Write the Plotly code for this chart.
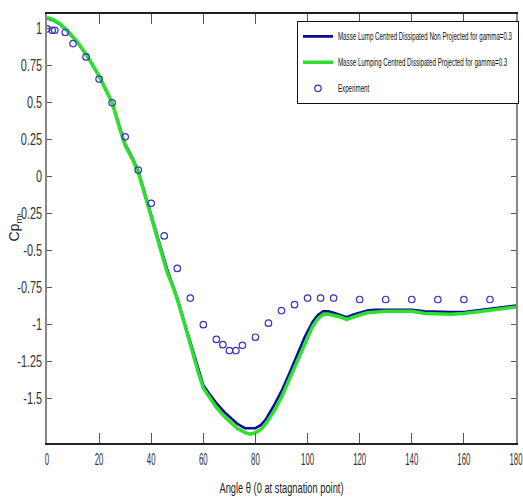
import plotly.graph_objects as go

# Pressure coefficient along the cylinder surface
angle_sim = [0, 2, 5, 8, 12, 16, 20, 25, 28, 30, 33, 35, 38, 41, 44, 46, 48, 50, 53, 56, 58,
             60, 62, 65, 68, 70, 73, 76, 78, 80, 82, 84, 87, 90, 93, 96, 99, 102, 104, 106,
             108, 110, 112, 115, 118, 120, 123, 126, 130, 135, 140, 145, 150, 155, 160,
             165, 170, 175, 180]

cp_non_projected = [1.07, 1.06, 1.03, 0.98, 0.90, 0.80, 0.68, 0.50, 0.33, 0.22, 0.12, 0.04,
                    -0.14, -0.32, -0.49, -0.62, -0.72, -0.82, -1.0, -1.18, -1.30, -1.41,
                    -1.46, -1.53, -1.59, -1.62, -1.67, -1.70, -1.70, -1.70, -1.68, -1.64,
                    -1.55, -1.45, -1.33, -1.20, -1.08, -0.98, -0.935, -0.91, -0.91, -0.92,
                    -0.93, -0.95, -0.93, -0.92, -0.905, -0.90, -0.90, -0.90, -0.90, -0.91,
                    -0.915, -0.915, -0.915, -0.905, -0.895, -0.88, -0.87]

cp_projected = [1.075, 1.065, 1.035, 0.985, 0.905, 0.80, 0.68, 0.50, 0.32, 0.21, 0.11, 0.03,
                -0.15, -0.33, -0.50, -0.64, -0.73, -0.83, -1.01, -1.20, -1.32, -1.43,
                -1.48, -1.56, -1.62, -1.65, -1.70, -1.73, -1.74, -1.73, -1.71, -1.67,
                -1.59, -1.49, -1.37, -1.24, -1.12, -1.01, -0.96, -0.93, -0.93, -0.935,
                -0.945, -0.965, -0.945, -0.935, -0.92, -0.915, -0.91, -0.91, -0.91, -0.925,
                -0.93, -0.93, -0.925, -0.915, -0.905, -0.895, -0.88]

angle_exp = [0, 2, 3, 7, 10, 15, 20, 25, 30, 35, 40, 45, 50, 55, 60, 65, 67.5, 70, 72.5, 75,
             80, 85, 90, 95, 100, 105, 110, 120, 130, 140, 150, 160, 170]
cp_exp = [1.0, 0.99, 0.99, 0.975, 0.90, 0.81, 0.66, 0.50, 0.27, 0.045, -0.18, -0.40, -0.62,
          -0.82, -1.0, -1.10, -1.135, -1.175, -1.175, -1.14, -1.085, -0.99, -0.905, -0.865,
          -0.82, -0.82, -0.82, -0.83, -0.83, -0.83, -0.83, -0.83, -0.83]

x_ticks = [0, 20, 40, 60, 80, 100, 120, 140, 160, 180]
y_ticks = [1, 0.75, 0.5, 0.25, 0, -0.25, -0.5, -0.75, -1, -1.25, -1.5]
y_labels = ["1", "0.75", "0.5", "0.25", "0", "-0.25", "-0.5", "-0.75", "-1", "-1.25", "-1.5"]

FONT = "Liberation Sans, Arial, sans-serif"

fig = go.Figure()
fig.add_trace(go.Scatter(
    x=angle_sim, y=cp_non_projected, mode="lines", legendgroup="a",
    name="Masse Lump Centred Dissipated Non Projected for gamma=0.3",
    line=dict(color="#0b0b96", width=2.6)))
fig.add_trace(go.Scatter(
    x=angle_sim, y=cp_projected, mode="lines", legendgroup="b",
    name="Masse Lumping Centred Dissipated Projected for gamma=0.3",
    line=dict(color="#2ee02e", width=3.5)))
fig.add_trace(go.Scatter(
    x=angle_exp, y=cp_exp, mode="markers", name="Experiment", legendgroup="c",
    marker=dict(symbol="circle-open", size=6.5, color="#3535c0", line=dict(width=1.2))))

fig.update_layout(
    width=523, height=500,
    margin=dict(l=47, r=7, t=14, b=57, autoexpand=False),
    paper_bgcolor="white", plot_bgcolor="white",
    font=dict(family=FONT, size=12, color="#222"),
    showlegend=True,
    legend=dict(x=0.533, y=0.984, xanchor="left", yanchor="top",
                bgcolor="white", bordercolor="#111", borderwidth=1,
                font=dict(family=FONT, size=10, color="#111"),
                tracegroupgap=7, itemwidth=30),
)
fig.update_xaxes(
    range=[0, 180], tickvals=x_ticks, ticks="inside", ticklen=10, tickcolor="#555",
    showline=True, linecolor="#222", linewidth=1.5, mirror="allticks",
    showgrid=False, zeroline=False, automargin=False, ticklabeloverflow="allow",
    tickfont=dict(family=FONT, size=17, color="#333"),
    title=dict(text="Angle θ (0 at stagnation point)", standoff=14,
               font=dict(family=FONT, size=15, color="#222")))
fig.update_yaxes(
    range=[-1.8, 1.1], tickvals=y_ticks, ticktext=y_labels, ticks="inside", ticklen=5,
    tickcolor="#555", showline=True, linecolor="#888", linewidth=1.5, mirror="allticks",
    showgrid=False, zeroline=False, automargin=False, ticklabeloverflow="allow",
    tickfont=dict(family=FONT, size=16, color="#333"),
    title=dict(text="Cp<sub>m</sub>", standoff=0,
               font=dict(family=FONT, size=14, color="#222")))

# Narrow (condensed) lettering: squeeze text horizontally about its anchor point
condense_js = """
var gd = document.getElementById('{plot_id}');
function squeeze(sel, f) {
  var maxW = 0;
  gd.querySelectorAll(sel).forEach(function (t) {
    var w = t.getComputedTextLength();
    if (w > 0) {
      maxW = Math.max(maxW, w);
      var ax = parseFloat(t.getAttribute('x')) || 0;
      var tr = t.getAttribute('transform') || '';
      t.setAttribute('transform', tr + ' translate(' + ax + ',0) scale(' + f + ',1) translate(' + (-ax) + ',0)');
    }
  });
  return maxW;
}
squeeze('g.xtick text', 0.46);
squeeze('g.ytick text', 0.68);
squeeze('text.xtitle', 0.62);
var lf = 0.62;
var lw = squeeze('g.legend text.legendtext', lf);
var bg = gd.querySelector('g.legend rect.bg');
if (bg) {
  var bw = parseFloat(bg.getAttribute('width'));
  bg.setAttribute('width', (bw - lw * (1 - lf)).toFixed(2));
}
var yt = gd.querySelector('text.ytitle');
if (yt) {
  yt.setAttribute('transform', 'translate(6,0) ' + (yt.getAttribute('transform') || ''));
}
"""

fig.write_html("out.html", post_script=condense_js)
